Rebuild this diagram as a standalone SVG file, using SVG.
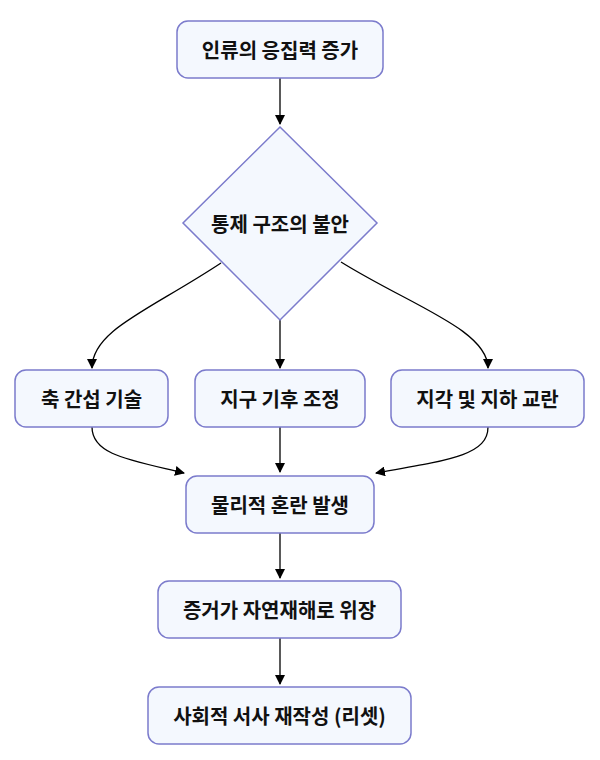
<svg xmlns="http://www.w3.org/2000/svg" width="600" height="760" viewBox="0 0 600 760">
<defs>
<marker id="arr" viewBox="0 0 10 10" refX="9" refY="5" markerWidth="10" markerHeight="10" markerUnits="userSpaceOnUse" orient="auto">
<path d="M0,0 L10,5 L0,10 z" fill="#000"/>
</marker>
<style>
.n{fill:#f4f8fe;stroke:#7b7bcc;stroke-width:1.5}
.t{font-family:"Noto Sans CJK KR","Noto Sans",sans-serif;font-size:20px;font-weight:600;fill:#111;text-anchor:middle;dominant-baseline:central}
.c{fill:none;stroke:#000;stroke-width:1.3;marker-end:url(#arr)}
</style>
</defs>
<rect width="600" height="760" fill="#fff"/>
<g id="connectors">
<path class="c" d="M280,78 L280,124"/>
<path class="c" d="M221,263 C150,310 92,330 92,368"/>
<path class="c" d="M280,320 L280,368"/>
<path class="c" d="M341,262 C410,305 488,330 488,368"/>
<path class="c" d="M92,427 C92,455 130,460 184,473"/>
<path class="c" d="M280,427 L280,472"/>
<path class="c" d="M488,427 C488,455 450,460 376,473"/>
<path class="c" d="M280,533 L280,578"/>
<path class="c" d="M280,638 L280,684"/>
</g>
<g id="n1"><rect class="n" x="177" y="21" width="206" height="57" rx="11"/><text class="t" x="280" y="49.5">인류의 응집력 증가</text></g>
<g id="n2"><polygon class="n" points="280,127 377,223 280,320 183,223"/><text class="t" x="280" y="223">통제 구조의 불안</text></g>
<g id="n3"><rect class="n" x="15" y="370" width="153" height="57" rx="11"/><text class="t" x="91.5" y="398.5">축 간섭 기술</text></g>
<g id="n4"><rect class="n" x="195" y="370" width="170" height="57" rx="11"/><text class="t" x="280" y="398.5">지구 기후 조정</text></g>
<g id="n5"><rect class="n" x="391" y="370" width="193" height="57" rx="11"/><text class="t" x="487.5" y="398.5">지각 및 지하 교란</text></g>
<g id="n6"><rect class="n" x="186" y="476" width="188" height="57" rx="11"/><text class="t" x="280" y="504.5">물리적 혼란 발생</text></g>
<g id="n7"><rect class="n" x="158" y="581" width="243" height="57" rx="11"/><text class="t" x="279.5" y="609.5">증거가 자연재해로 위장</text></g>
<g id="n8"><rect class="n" x="148" y="687" width="263" height="57" rx="11"/><text class="t" x="279.5" y="715.5">사회적 서사 재작성 (리셋)</text></g>
</svg>
